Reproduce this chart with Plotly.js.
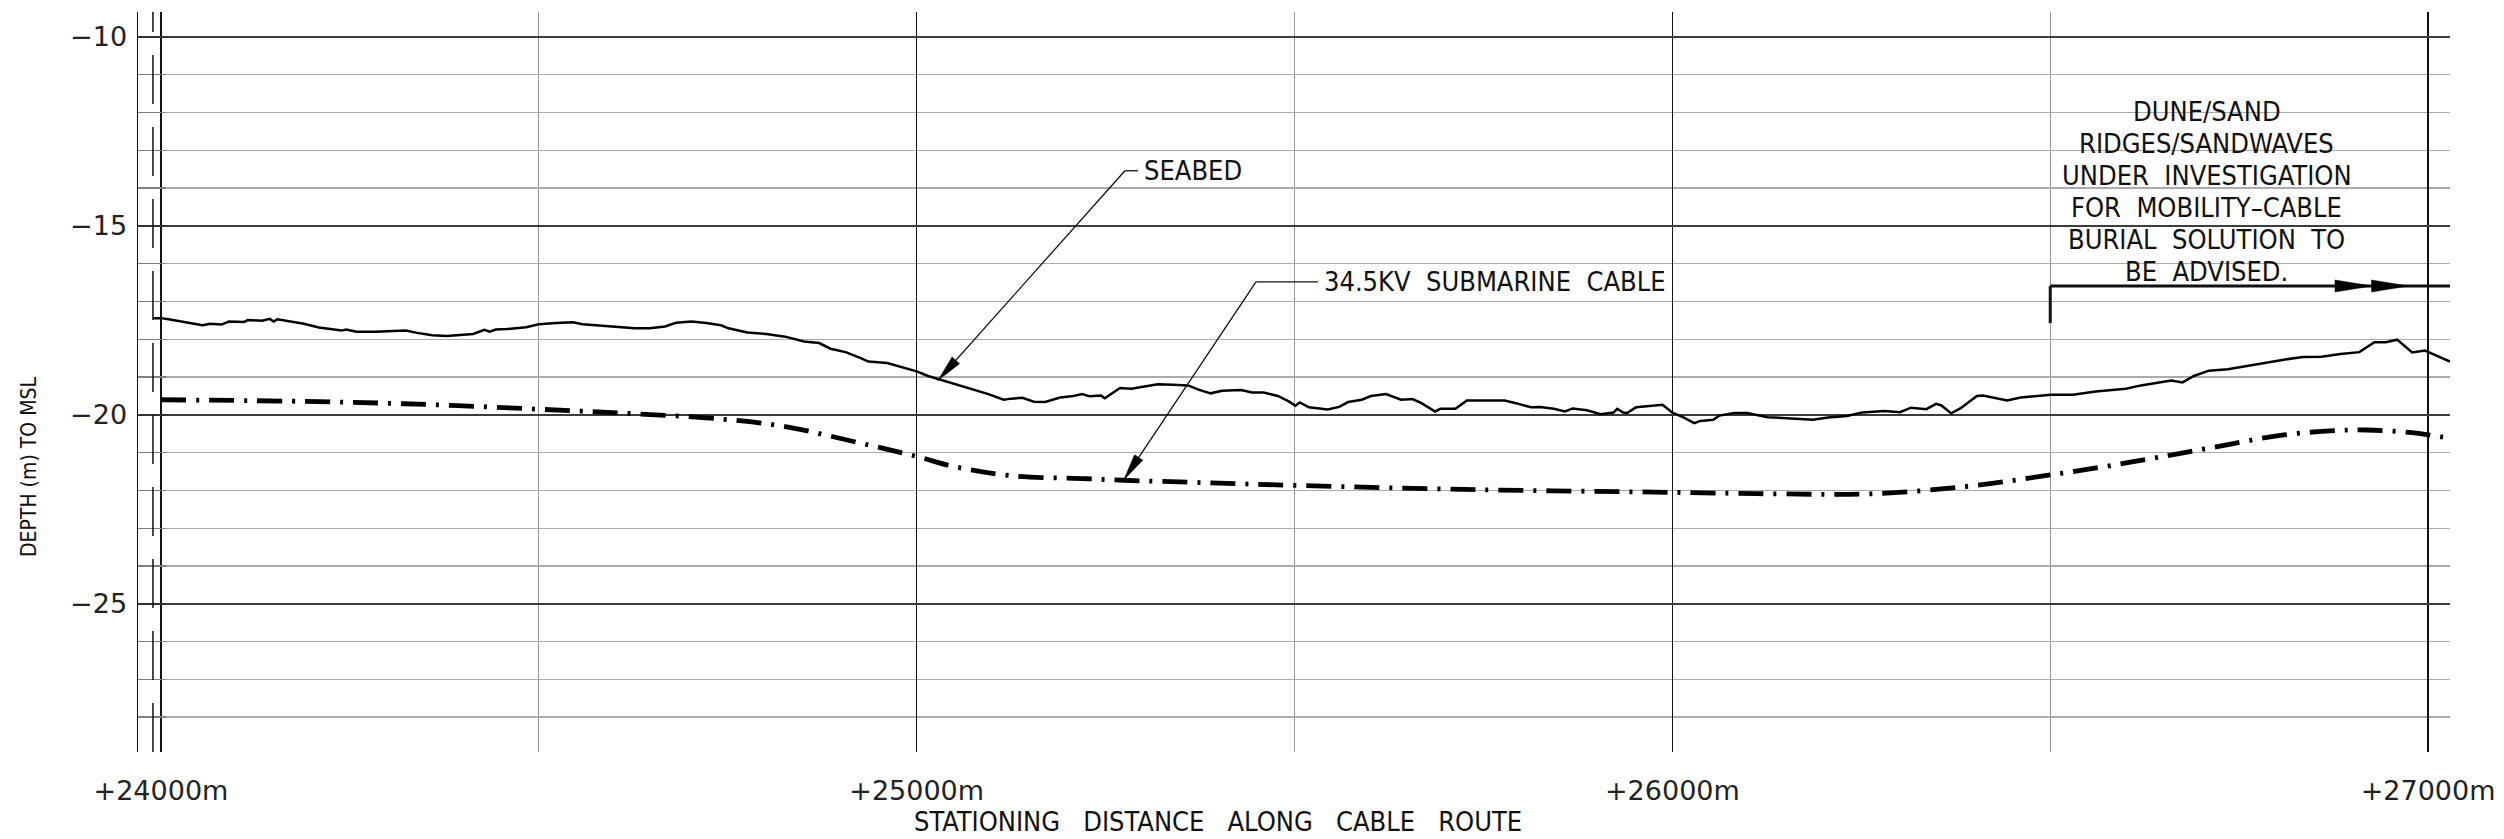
<!DOCTYPE html>
<html><head><meta charset="utf-8">
<script src="https://cdn.plot.ly/plotly-3.0.1.min.js"></script>
<style>html,body{margin:0;padding:0;background:#fff;} #chart{width:2504px;height:839px;}</style>
</head><body><div id="chart"></div>
<script>
// ---------------- DATA ----------------
const seabedX = [23990,24000,24010,24035,24055,24065,24080,24090,24110,24115,24134,24144,24149,24154,24169,24189,24209,24239,24245,24259,24284,24309,24324,24339,24359,24378,24398,24413,24428,24435,24443,24458,24483,24500,24523,24545,24558,24583,24608,24627,24647,24667,24682,24702,24722,24741,24751,24776,24801,24826,24851,24871,24886,24906,24926,24936,24961,24976,25000,25015,25035,25055,25075,25095,25115,25125,25140,25155,25170,25190,25205,25219,25229,25244,25249,25269,25284,25304,25319,25339,25359,25374,25389,25404,25429,25444,25459,25478,25493,25501,25507,25519,25544,25559,25571,25589,25601,25621,25641,25656,25668,25686,25693,25713,25728,25753,25778,25793,25813,25825,25843,25858,25868,25887,25905,25922,25927,25935,25940,25952,25972,25987,26000,26014,26029,26037,26054,26062,26082,26099,26126,26156,26186,26206,26231,26251,26281,26301,26316,26336,26349,26356,26369,26381,26403,26411,26426,26443,26461,26481,26501,26530,26560,26600,26620,26660,26675,26690,26710,26735,26760,26784,26809,26834,26859,26884,26909,26929,26944,26959,26979,26996,27013,27029];
const seabedY = [-17.44,-17.44,-17.47,-17.55,-17.63,-17.59,-17.61,-17.53,-17.54,-17.49,-17.51,-17.46,-17.53,-17.47,-17.52,-17.59,-17.69,-17.77,-17.74,-17.80,-17.80,-17.78,-17.77,-17.83,-17.89,-17.91,-17.89,-17.86,-17.75,-17.80,-17.74,-17.73,-17.68,-17.60,-17.57,-17.55,-17.60,-17.64,-17.68,-17.71,-17.71,-17.66,-17.56,-17.53,-17.57,-17.63,-17.71,-17.82,-17.86,-17.93,-18.06,-18.10,-18.25,-18.34,-18.50,-18.59,-18.63,-18.72,-18.85,-18.97,-19.09,-19.19,-19.32,-19.45,-19.60,-19.57,-19.55,-19.65,-19.66,-19.54,-19.51,-19.45,-19.51,-19.49,-19.56,-19.29,-19.31,-19.23,-19.19,-19.20,-19.22,-19.34,-19.43,-19.36,-19.34,-19.41,-19.41,-19.50,-19.65,-19.76,-19.67,-19.80,-19.86,-19.79,-19.66,-19.60,-19.50,-19.45,-19.60,-19.58,-19.69,-19.91,-19.84,-19.84,-19.62,-19.62,-19.62,-19.69,-19.80,-19.79,-19.84,-19.91,-19.83,-19.88,-19.98,-19.94,-19.84,-19.94,-19.95,-19.80,-19.76,-19.73,-19.94,-20.06,-20.22,-20.16,-20.13,-20.02,-19.95,-19.95,-20.06,-20.09,-20.13,-20.07,-20.03,-19.94,-19.90,-19.93,-19.81,-19.85,-19.71,-19.75,-19.96,-19.83,-19.50,-19.49,-19.56,-19.62,-19.54,-19.50,-19.47,-19.47,-19.38,-19.31,-19.22,-19.09,-19.14,-18.97,-18.83,-18.79,-18.70,-18.61,-18.54,-18.47,-18.46,-18.39,-18.34,-18.08,-18.08,-18.01,-18.35,-18.30,-18.46,-18.59];

const cableX = [24000,24209,24359,24500,24608,24741,24826,24926,25000,25050,25125,25225,25274,25374,25507,25743,26000,26141,26262,26386,26500,26610,26710,26809,26884,26919,26979,27029];
const cableY = [-19.60,-19.65,-19.73,-19.85,-19.95,-20.11,-20.31,-20.75,-21.10,-21.37,-21.61,-21.69,-21.73,-21.79,-21.87,-21.98,-22.05,-22.09,-22.09,-21.90,-21.59,-21.24,-20.88,-20.53,-20.41,-20.40,-20.47,-20.62];

const xTickVals = [24000, 25000, 26000, 27000];
const xTickText = ['+24000m', '+25000m', '+26000m', '+27000m'];
const xMinorVals = [24500, 25500, 26500];
const yTickVals = [-10, -15, -20, -25];
const yTickText = ['\u221210', '\u221215', '\u221220', '\u221225'];

const xTitle = 'STATIONING   DISTANCE   ALONG   CABLE   ROUTE';
const yTitle = 'DEPTH (m) TO MSL';
const seabedLabel = 'SEABED';
const cableLabel = '34.5KV  SUBMARINE  CABLE';
const noteLines = ['DUNE/SAND', 'RIDGES/SANDWAVES', 'UNDER  INVESTIGATION', 'FOR  MOBILITY\u2013CABLE', 'BURIAL  SOLUTION  TO', 'BE  ADVISED.'];

// ---------------- LAYOUT GEOMETRY ----------------
const W = 2504, H = 839;
const margin = {l: 138, r: 54, t: 12, b: 87};
const xRange = [23969.6, 27029.0];
const yRange = [-28.92, -9.34];
const plotW = W - margin.l - margin.r, plotH = H - margin.t - margin.b;
const pxX = plotW / (xRange[1] - xRange[0]);
const pxY = plotH / (yRange[1] - yRange[0]);

const ink = '#111';
const cadFont = {family: 'DejaVu Sans Condensed, DejaVu Sans, sans-serif', size: 27, color: ink};
const narrowFont = {family: 'Liberation Sans Narrow, DejaVu Sans Condensed, sans-serif', size: 21, color: ink};
const tickFont = {family: 'DejaVu Sans, sans-serif', size: 27, color: '#222'};

function headPath(tipX, tipY, tailX, tailY, len, hw) {
  const dx = (tipX - tailX) * pxX, dy = -(tipY - tailY) * pxY;
  const n = Math.hypot(dx, dy), ux = dx / n, uy = dy / n;
  const bx = -ux * len, by = -uy * len, px = -uy, py = ux;
  const a = [bx + px * hw, by + py * hw], b = [bx - px * hw, by - py * hw];
  return 'M 0,0 L ' + a[0].toFixed(2) + ',' + (-a[1]).toFixed(2) + ' L ' + b[0].toFixed(2) + ',' + (-b[1]).toFixed(2) + ' Z';
}
function arrowHead(tipX, tipY, tailX, tailY, len, hw) {
  return {type: 'path', xref: 'x', yref: 'y', xsizemode: 'pixel', ysizemode: 'pixel',
    xanchor: tipX, yanchor: tipY, path: headPath(tipX, tipY, tailX, tailY, len, hw),
    fillcolor: '#000', line: {color: '#000', width: 0.5}, layer: 'above'};
}
function seg(x0, y0, x1, y1, w, dash) {
  return {type: 'line', xref: 'x', yref: 'y', x0: x0, y0: y0, x1: x1, y1: y1,
    line: {color: ink, width: w, dash: dash || 'solid'}, layer: 'above'};
}

// leader geometry (annotation positions)
const seabedTip = [25028, -19.09], seabedElbow = [25275.6, -13.54], seabedTextX = 25298;
const cableTip = [25274, -21.72], cableElbow = [25449, -16.48], cableTextX = 25536;
const bracketX = 26500, bracketY = -16.59, bracketBottom = -17.57;
const bracketHeads = [26925.8, 26974.1];
const noteX = 26707, noteTop = -11.98, noteStep = 0.845;

const shapes = [
  {type: 'line', xref: 'x', yref: 'paper', x0: 23989.4, x1: 23989.4, y0: 0, y1: 1,
   line: {color: ink, width: 1.5, dash: '49px,23px'}},
  seg(seabedTip[0], seabedTip[1], seabedElbow[0], seabedElbow[1], 1.3),
  seg(seabedElbow[0], seabedElbow[1], seabedTextX - 5, seabedElbow[1], 1.3),
  arrowHead(seabedTip[0], seabedTip[1], seabedElbow[0], seabedElbow[1], 27, 5),
  seg(cableTip[0], cableTip[1], cableElbow[0], cableElbow[1], 1.3),
  seg(cableElbow[0], cableElbow[1], cableTextX - 5, cableElbow[1], 1.3),
  arrowHead(cableTip[0], cableTip[1], cableElbow[0], cableElbow[1], 27, 5),
  seg(bracketX, bracketY, bracketX, bracketBottom, 3),
  seg(bracketX, bracketY, xRange[1], bracketY, 3),
  arrowHead(bracketHeads[0], bracketY, bracketX, bracketY, 37, 6),
  arrowHead(bracketHeads[1], bracketY, bracketX, bracketY, 37, 6)
];

const annotations = [
  {xref: 'x', yref: 'y', x: seabedTextX, y: seabedElbow[1], text: seabedLabel, showarrow: false,
   xanchor: 'left', yanchor: 'middle', font: cadFont},
  {xref: 'x', yref: 'y', x: cableTextX, y: cableElbow[1], text: cableLabel, showarrow: false,
   xanchor: 'left', yanchor: 'middle', font: cadFont},
  {xref: 'paper', yref: 'paper', x: (1218 - margin.l) / plotW, y: (H - margin.b - 822) / plotH,
   text: xTitle, showarrow: false, xanchor: 'center', yanchor: 'middle', font: cadFont},
  {xref: 'paper', yref: 'paper', x: (29 - margin.l) / plotW, y: (H - margin.b - 467) / plotH,
   text: yTitle, showarrow: false, xanchor: 'center', yanchor: 'middle', textangle: -90,
   font: narrowFont}
];
noteLines.forEach((t, i) => annotations.push({xref: 'x', yref: 'y', x: noteX, y: noteTop - i * noteStep,
  text: t, showarrow: false, xanchor: 'center', yanchor: 'middle', font: cadFont}));

const traces = [
  {x: seabedX, y: seabedY, type: 'scatter', mode: 'lines', line: {color: '#000', width: 2.5}, hoverinfo: 'skip'},
  {x: cableX, y: cableY, type: 'scatter', mode: 'lines',
   line: {color: '#000', width: 4.8, dash: '25px,10px,3px,10px', shape: 'spline', smoothing: 1}, hoverinfo: 'skip'}
];

const layout = {
  width: W, height: H, margin: margin, paper_bgcolor: '#fff', plot_bgcolor: '#fff',
  showlegend: false, hovermode: false,
  xaxis: {range: xRange, tickmode: 'array', tickvals: xTickVals, ticktext: xTickText,
    showgrid: true, gridcolor: '#111', gridwidth: 1.3, zeroline: false, showline: false, ticks: '',
    minor: {tickmode: 'array', tickvals: xMinorVals, showgrid: true, gridcolor: '#9a9a9a', gridwidth: 1.2},
    tickfont: tickFont, ticklabelstandoff: 20},
  yaxis: {range: yRange, tickmode: 'array', tickvals: yTickVals, ticktext: yTickText,
    showgrid: true, gridcolor: '#3c3c3c', gridwidth: 1.5, zeroline: false,
    showline: true, linecolor: '#111', linewidth: 1.5,
    ticks: 'inside', ticklen: 28, tickcolor: '#333', tickwidth: 1.5,
    minor: {dtick: 1, tick0: -10, showgrid: true, gridcolor: '#ababab', gridwidth: 1.5,
      ticks: 'inside', ticklen: 28, tickcolor: '#808080', tickwidth: 1.5},
    tickfont: tickFont, ticklabelstandoff: 4},
  shapes: shapes, annotations: annotations
};

Plotly.newPlot('chart', traces, layout, {staticPlot: true, displayModeBar: false});
</script></body></html>
